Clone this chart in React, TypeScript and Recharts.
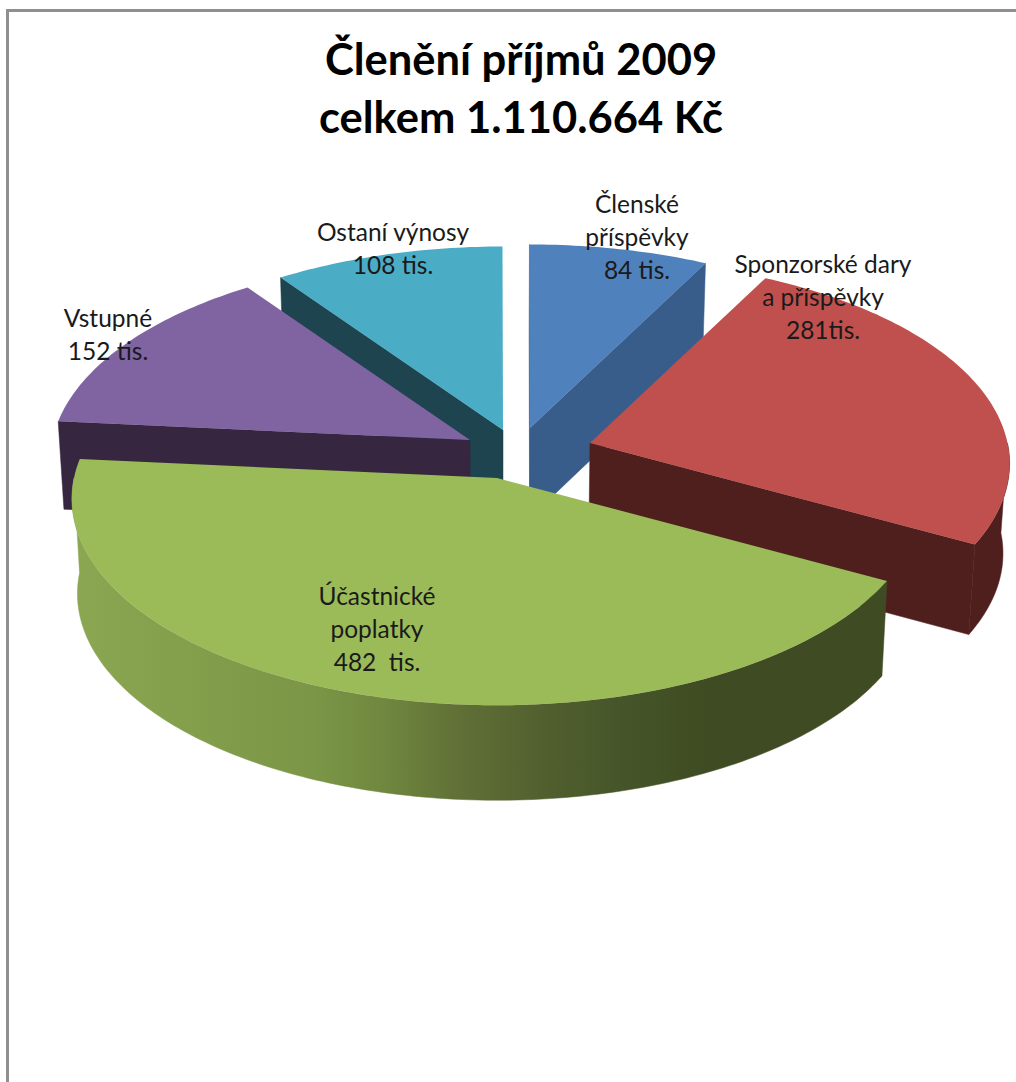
import React from 'react';
import { PieChart, Pie } from 'recharts';

// the pie starts at "Ostaní výnosy" so slices paint in the order the 3D look needs
const categories = ['Ostaní výnosy', 'Členské příspěvky', 'Sponzorské dary a příspěvky', 'Účastnické poplatky', 'Vstupné'];
const values = [108, 84, 281, 482, 152];
const labelLines = [
  ['Ostaní výnosy', '108 tis.'],
  ['Členské', 'příspěvky', '84 tis.'],
  ['Sponzorské dary', 'a příspěvky', '281tis.'],
  ['Účastnické', 'poplatky', '482\u00a0 tis.'],
  ['Vstupné', '152 tis.'],
];
const topColors = ['#4bacc6', '#4f81bd', '#c0504d', '#9bbb59', '#8064a2'];
const wallColors = ['#1d444f', '#385d8a', '#4f1f1e', 'url(#greenWall)', '#362640'];

// explode offset of each slice from the pie centre, its radius relative to the pie, and wall height
const explode = [[3, -48], [30, -50], [90, -35], [-3, 0], [-30, -38]];
const radiusScale = [0.987, 0.987, 0.987, 1, 0.987];
const wallDepth = [90, 90, 90, 95, 88];
// label position from the pie centre: x of the text centre, y of the first baseline
const labelPos = [[-107, -237], [137, -265], [323, -205], [-123, 127], [-392, -151]];

const tableData = categories.map((name, i) => ({ name, value: values[i], idx: i }));
const FRONT = 3;

const CX = 500;
const CY = 478;
const RADIUS = 423;
const SQUASH = 205 / 424;
const PERSPECTIVE = 0.1;
const BOTTOM_SHRINK = 0.987;

const project = (a: number, R: number) => {
  const rad = (a * Math.PI) / 180;
  const u = Math.sin(rad);
  const v = -Math.cos(rad);
  const s = 1 / (1 - PERSPECTIVE * v);
  return { x: R * u * s, y: R * SQUASH * v * s };
};

const toPath = (pts: { x: number; y: number }[]) =>
  pts.map((p, i) => `${i === 0 ? 'M' : 'L'}${p.x.toFixed(2)} ${p.y.toFixed(2)}`).join(' ') + ' Z';

const arcPoints = (a0: number, a1: number, R: number, ox: number, oy: number) => {
  const steps = Math.max(2, Math.ceil(a1 - a0));
  const pts = [];
  for (let i = 0; i <= steps; i++) {
    const p = project(a0 + ((a1 - a0) * i) / steps, R);
    pts.push({ x: ox + p.x, y: oy + p.y });
  }
  return pts;
};

const Slice3D = (props: any) => {
  const { cx, cy, outerRadius, startAngle, endAngle, layer } = props;
  const idx = props.payload?.idx ?? props.idx;
  const isFront = idx === FRONT;
  if ((layer === 'front') !== isFront) return null;

  const a0 = ((90 - startAngle) % 360 + 360) % 360;
  const a1 = a0 + (startAngle - endAngle);
  const R = outerRadius * radiusScale[idx];
  const ox = cx + explode[idx][0];
  const oy = cy + explode[idx][1];
  const apex = { x: ox, y: oy };
  const drop = (p: { x: number; y: number }) => ({ x: cx + (p.x - cx) * BOTTOM_SHRINK, y: p.y + wallDepth[idx] });

  const arc = arcPoints(a0, a1, R, ox, oy);
  const mid = arc[Math.floor(arc.length / 2)];

  const faces: string[] = [];
  [arc[0], arc[arc.length - 1]].forEach((p) => {
    const ex = p.x - apex.x;
    const ey = p.y - apex.y;
    const inner = ex * (mid.y - apex.y) - ey * (mid.x - apex.x);
    if (inner * ex < 0) faces.push(toPath([apex, p, drop(p), drop(apex)]));
  });

  // rim wall, only the part of the arc turned to the viewer
  const r0 = Math.max(a0, 90);
  const r1 = Math.min(a1, 270);
  if (r1 > r0) {
    const top = arcPoints(r0, r1, R, ox, oy);
    faces.push(toPath([...top, ...top.map(drop).reverse()]));
  }

  return (
    <g>
      {isFront && (
        <defs>
          <linearGradient id="greenWall" gradientUnits="userSpaceOnUse" x1="70" y1="0" x2="888" y2="0">
            <stop offset="0" stopColor="#8ca752" />
            <stop offset="0.3" stopColor="#7a9646" />
            <stop offset="0.38" stopColor="#70883f" />
            <stop offset="0.48" stopColor="#606f36" />
            <stop offset="0.59" stopColor="#505e2e" />
            <stop offset="0.68" stopColor="#465529" />
            <stop offset="0.78" stopColor="#3f4b22" />
            <stop offset="1" stopColor="#3f4b22" />
          </linearGradient>
        </defs>
      )}
      {faces.map((d, i) => (
        <path key={i} d={d} fill={wallColors[idx]} stroke={wallColors[idx]} strokeWidth={0.5} />
      ))}
      <path d={toPath([apex, ...arc])} fill={topColors[idx]} />
    </g>
  );
};

const renderLabel = (props: any) => {
  const idx = props.payload?.idx ?? props.idx;
  return (
    <text key={idx} textAnchor="middle" fontFamily="Lato, sans-serif" fontSize={24.5} fill="#1a1a1a">
      {labelLines[idx].map((line, i) => (
        <tspan key={i} x={props.cx + labelPos[idx][0]} y={props.cy + labelPos[idx][1] + i * 33}>
          {line}
        </tspan>
      ))}
    </text>
  );
};

const App: React.FC = () => {
  return (
    <div style={{ position: 'absolute', left: 0, top: 0, width: 1016, height: 1082, background: '#fff', overflow: 'hidden' }}>
      <div style={{ position: 'absolute', left: 6, top: 9, width: 1010, height: 1073, borderLeft: '3px solid #8f8f8f', borderTop: '3px solid #8f8f8f' }} />
      <div
        style={{
          position: 'absolute',
          left: 0,
          width: 1042,
          top: 29,
          textAlign: 'center',
          fontFamily: 'Lato, sans-serif',
          fontWeight: 700,
          fontSize: 43.5,
          lineHeight: '58px',
          color: '#000',
        }}
      >
        Členění příjmů 2009
        <br />
        celkem 1.110.664 Kč
      </div>
      <div style={{ position: 'absolute', left: 0, top: 0 }}>
        <PieChart width={1016} height={1082} margin={{ top: 0, right: 0, bottom: 0, left: 0 }}>
          <Pie
            data={tableData}
            dataKey="value"
            nameKey="name"
            cx={CX}
            cy={CY}
            outerRadius={RADIUS}
            startAngle={125.2}
            endAngle={-234.8}
            stroke="none"
            labelLine={false}
            isAnimationActive={false}
            shape={(p: any) => <Slice3D {...p} layer="back" />}
          />
          <Pie
            data={tableData}
            dataKey="value"
            nameKey="name"
            cx={CX}
            cy={CY}
            outerRadius={RADIUS}
            startAngle={125.2}
            endAngle={-234.8}
            stroke="none"
            labelLine={false}
            label={renderLabel}
            isAnimationActive={false}
            shape={(p: any) => <Slice3D {...p} layer="front" />}
          />
        </PieChart>
      </div>
    </div>
  );
};

export default App;
